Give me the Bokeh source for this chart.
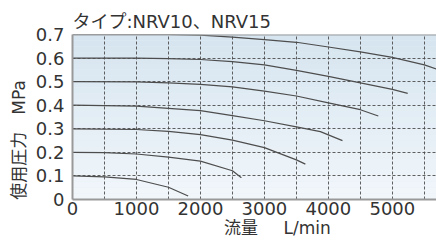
import numpy as np
from bokeh.plotting import figure
from bokeh.embed import file_html
from bokeh.resources import INLINE
from bokeh.models import FixedTicker, Range1d

# Flow (L/min) vs working pressure (MPa), one curve per set pressure
flow_07 = [0, 1000, 1500, 2000, 2500, 3000, 3500, 4000, 4500, 5000, 5500, 5700]
pres_07 = [0.700, 0.700, 0.700, 0.697, 0.689, 0.678, 0.667, 0.647, 0.626, 0.603, 0.571, 0.552]

flow_06 = [0, 1000, 1500, 2000, 2500, 3000, 3500, 4000, 4500, 5000, 5240]
pres_06 = [0.600, 0.600, 0.598, 0.594, 0.585, 0.571, 0.548, 0.522, 0.495, 0.467, 0.450]

flow_05 = [0, 1000, 1500, 2000, 2500, 3000, 3500, 4000, 4500, 4780]
pres_05 = [0.500, 0.499, 0.495, 0.488, 0.478, 0.460, 0.439, 0.410, 0.381, 0.354]

flow_04 = [0, 1000, 1500, 2000, 2500, 3000, 3500, 3875, 4220]
pres_04 = [0.400, 0.396, 0.387, 0.377, 0.356, 0.334, 0.308, 0.288, 0.250]

flow_03 = [0, 1000, 1500, 2000, 2500, 3000, 3500, 3640]
pres_03 = [0.300, 0.297, 0.289, 0.275, 0.252, 0.220, 0.168, 0.150]

flow_02 = [0, 500, 1000, 1500, 2000, 2500, 2640]
pres_02 = [0.200, 0.199, 0.193, 0.180, 0.163, 0.122, 0.092]

flow_01 = [0, 500, 1000, 1500, 1808]
pres_01 = [0.100, 0.096, 0.085, 0.052, 0.015]

x_ticks = [0, 1000, 2000, 3000, 4000, 5000]
y_ticks = [0, 0.1, 0.2, 0.3, 0.4, 0.5, 0.6, 0.7]
x_grid = [500, 1000, 1500, 2000, 2500, 3000, 3500, 4000, 4500, 5000, 5500]

title_text = "タイプ:NRV10、NRV15"
x_label = "\u3000\u3000\u2002\u2009流量\u3000\u2002L/min"
y_label = "使用圧力\u3000MPa\u3000\u3000\u2002\u2009"

FONT = "'DejaVu Sans', 'Noto Sans CJK JP'"

X_MAX = 5690
Y_MAX = 0.7

p = figure(width=436, height=240, output_backend="svg", toolbar_location=None,
           x_range=Range1d(0, X_MAX), y_range=Range1d(0, Y_MAX),
           min_border_left=72, min_border_right=0, min_border_top=34, min_border_bottom=38)

p.title.text = title_text
p.title.text_font = FONT
p.title.text_font_size = "18px"
p.title.text_font_style = "normal"
p.title.text_color = "#333333"
p.title.align = "left"
p.title.offset = 0
p.title.standoff = 6

# background gradient (decoration): horizontal strips
n_strips = 28
edges = np.linspace(0, Y_MAX, n_strips + 1)
top_c = np.array([0xd6, 0xe5, 0xf0])
bot_c = np.array([0xf2, 0xf7, 0xfb])
cols = []
for i in range(n_strips):
    t = (i + 0.5) / n_strips
    c = (bot_c * (1 - t) + top_c * t).astype(int)
    cols.append("#%02x%02x%02x" % tuple(c))
p.quad(left=0, right=X_MAX, bottom=edges[:-1], top=edges[1:], fill_color=cols,
       line_color=None, level="image")

p.background_fill_color = "#e6eff6"
p.border_fill_color = "white"
p.outline_line_color = None

p.xgrid.ticker = FixedTicker(ticks=x_grid)
p.ygrid.ticker = FixedTicker(ticks=y_ticks)
for g in (p.xgrid, p.ygrid):
    g.grid_line_color = "#444444"
    g.grid_line_dash = "3 2"
    g.grid_line_width = 1
    g.grid_line_alpha = 0.85
    g.level = "underlay"

curves = [(flow_07, pres_07), (flow_06, pres_06), (flow_05, pres_05), (flow_04, pres_04),
          (flow_03, pres_03), (flow_02, pres_02), (flow_01, pres_01)]
for fx, py in curves:
    p.line(fx, py, line_color="#4d4d4d", line_width=1.2)

# top border line
p.line([0, X_MAX], [Y_MAX, Y_MAX], line_color="#999999", line_width=2)

p.xaxis.ticker = FixedTicker(ticks=x_ticks)
p.yaxis.ticker = FixedTicker(ticks=y_ticks)
p.yaxis.major_label_overrides = {0: "0"}
for ax in (p.xaxis, p.yaxis):
    ax.axis_line_color = "#999999"
    ax.axis_line_width = 2
    ax.major_tick_line_color = None
    ax.minor_tick_line_color = None
    ax.major_tick_out = 0
    ax.major_tick_in = 0
    ax.major_label_text_font = FONT
    ax.major_label_text_font_size = "18px"
    ax.major_label_text_color = "#333333"
    ax.axis_label_text_font = FONT
    ax.axis_label_text_font_size = "17px"
    ax.axis_label_text_font_style = "normal"
    ax.axis_label_text_color = "#333333"
p.xaxis.major_label_standoff = 2
p.yaxis.major_label_standoff = 8
p.xaxis.axis_label = x_label
p.yaxis.axis_label = y_label
p.xaxis.axis_label_standoff = 0
p.yaxis.axis_label_standoff = 4

open("out.html", "w").write(file_html(p, INLINE))
